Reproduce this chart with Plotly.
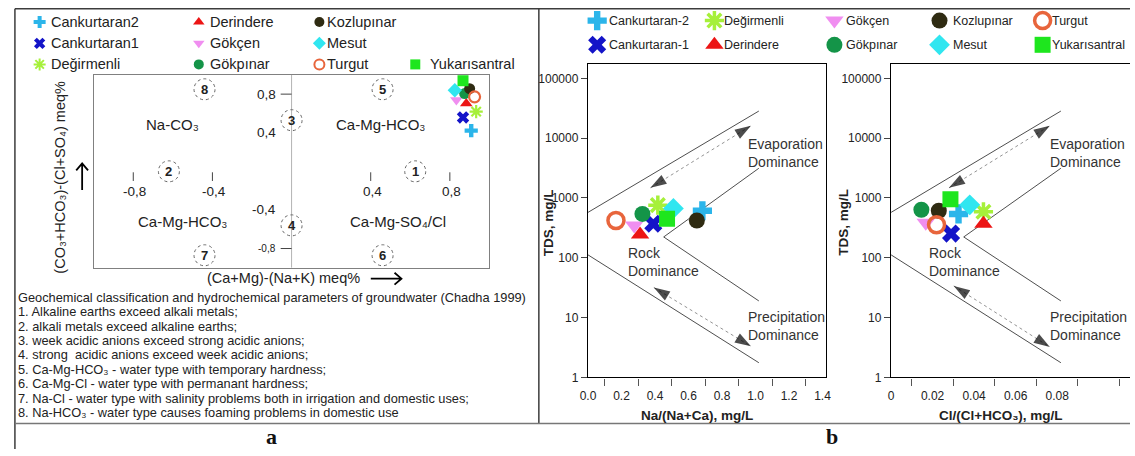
import numpy as np
import plotly.graph_objects as go

W, H = 1135, 456

# ---------------- data ----------------
stations_a = ["Cankurtaran2", "Cankurtaran1", "Değirmenli", "Derindere", "Gökçen",
              "Gökpınar", "Kozlupınar", "Mesut", "Turgut", "Yukarısantral"]
stations_b = ["Cankurtaran-2", "Cankurtaran-1", "Değirmenli", "Derindere", "Gökçen",
              "Gökpınar", "Kozlupınar", "Mesut", "Turgut", "Yukarısantral"]
colors = ["#2bb5ea", "#1414c8", "#a6f03a", "#ec1515", "#f08ef0",
          "#149448", "#2f2b12", "#30e6f0", "#e8653c", "#1ee61e"]
symbols = ["cross", "x", "asterisk-open", "triangle-up", "triangle-down",
           "circle", "circle", "diamond", "circle-open", "square"]

# Chadha diagram: (Ca+Mg)-(Na+K) and (CO3+HCO3)-(Cl+SO4)
chadha_x = [0.908, 0.8665, 0.933, 0.883, 0.833, 0.875, 0.900, 0.825, 0.925, 0.8665]
chadha_y = [0.422, 0.558, 0.619, 0.704, 0.738, 0.806, 0.857, 0.840, 0.772, 0.939]

# Gibbs diagrams
gibbs_na = [0.683, 0.390, 0.417, 0.311, 0.276, 0.325, 0.650, 0.510, 0.167, 0.472]
gibbs_tds1 = [612, 371, 759, 245, 348, 541, 420, 668, 420, 448]
gibbs_cl = [0.0325, 0.0289, 0.0445, 0.0445, 0.0167, 0.0146, 0.0230, 0.0379, 0.0219, 0.0286]
gibbs_tds2 = [541, 254, 589, 371, 385, 635, 612, 767, 357, 953]

# Gibbs boundary lines
g1_upper_x, g1_upper_y = [0.0, 1.02], [574, 28400]
g1_inner_x, g1_inner_y = [1.02, 0.452, 1.02], [3140, 223, 19]
g1_lower_x, g1_lower_y = [0.0, 1.02], [112, 1.76]
g1_arr_up_x, g1_arr_up_y = [0.373, 0.973], [1476, 16140]
g1_arr_dn_x, g1_arr_dn_y = [0.393, 0.973], [31.8, 3.31]

g2_upper_x, g2_upper_y = [0.0, 0.0818], [574, 28400]
g2_inner_x, g2_inner_y = [0.0818, 0.035, 0.0818], [3140, 223, 19]
g2_lower_x, g2_lower_y = [0.0, 0.0818], [112, 1.76]
g2_arr_up_x, g2_arr_up_y = [0.0279, 0.0765], [1476, 16140]
g2_arr_dn_x, g2_arr_dn_y = [0.0302, 0.0765], [33.9, 3.22]

# tick labels
chadha_xticks = [-0.8, -0.4, 0.4, 0.8]
chadha_xticklabels = ["-0,8", "-0,4", "0,4", "0,8"]
chadha_yticks = [0.8, 0.4, -0.4, -0.8]
chadha_yticklabels = ["0,8", "0,4", "-0,4", "-0,8"]
gibbs1_xticks = [0.0, 0.2, 0.4, 0.6, 0.8, 1.0, 1.2, 1.4]
gibbs1_xticklabels = ["0.0", "0.2", "0.4", "0.6", "0.8", "1.0", "1.2", "1.4"]
gibbs2_xticks = [0.0, 0.02, 0.04, 0.06, 0.08]
gibbs2_xticklabels = ["0", "0.02", "0.04", "0.06", "0.08"]
gibbs_yticks = [1, 10, 100, 1000, 10000, 100000]
gibbs_yticklabels = ["1", "10", "100", "1000", "10000", "100000"]

zones = ["8", "5", "3", "2", "1", "4", "7", "6"]
zone_x = [-0.44, 0.46, 0.0, -0.62, 0.625, 0.0, -0.44, 0.46]
zone_y = [0.85, 0.85, 0.53, 0.0, 0.0, -0.56, -0.87, -0.87]
types = ["Na-CO₃", "Ca-Mg-HCO₃", "Ca-Mg-HCO₃", "Ca-Mg-SO₄/Cl"]
type_x = [-0.60, 0.45, -0.55, 0.54]
type_y = [0.483, 0.483, -0.52, -0.52]

notes = [
    "Geochemical classification and hydrochemical parameters of groundwater (Chadha 1999)",
    "1. Alkaline earths exceed alkali metals;",
    "2. alkali metals exceed alkaline earths;",
    "3. week acidic anions exceed strong acidic anions;",
    "4. strong  acidic anions exceed week acidic anions;",
    "5. Ca-Mg-HCO₃ - water type with temporary hardness;",
    "6. Ca-Mg-Cl - water type with permanant hardness;",
    "7. Na-Cl - water type with salinity problems both in irrigation and domestic uses;",
    "8. Na-HCO₃ - water type causes foaming problems in domestic use",
]

FONT = "Liberation Sans, Arial, sans-serif"

# Chadha plot area in figure pixels
CH_L, CH_R, CH_T, CH_B = 86.7, 487.0, 76.0, 272.0


def cx(v):
    return (CH_L + CH_R) / 2 + v * (CH_R - CH_L) / 2


def cy(v):
    return (CH_T + CH_B) / 2 - v * (CH_B - CH_T) / 2


def px(x):
    return x / W


def py(y):
    return 1 - y / H


fig = go.Figure()

# ---------- Chadha markers ----------
for i, s in enumerate(stations_a):
    open_ = symbols[i].endswith("open")
    fig.add_trace(go.Scatter(
        x=[chadha_x[i]], y=[chadha_y[i]], mode="markers", xaxis="x", yaxis="y",
        marker=dict(symbol=symbols[i], size=11, color=colors[i],
                    line=dict(color=colors[i], width=2.2 if open_ else 0)),
        cliponaxis=False, showlegend=False, name=s))


# ---------- Gibbs boundaries and arrows ----------
def gibbs_lines(xa, ya, upx, upy, inx, iny, lox, loy, aux, auy, adx, ady):
    for lx, ly in [(upx, upy), (inx, iny), (lox, loy)]:
        fig.add_trace(go.Scatter(x=lx, y=ly, mode="lines", xaxis=xa, yaxis=ya,
                                 line=dict(color="#3a3a3a", width=0.9), showlegend=False,
                                 hoverinfo="skip"))
    for ax_, ay_ in [(aux, auy), (adx, ady)]:
        fig.add_trace(go.Scatter(x=ax_, y=ay_, mode="lines", xaxis=xa, yaxis=ya,
                                 line=dict(color="#888", width=0.9, dash="dot"),
                                 showlegend=False, hoverinfo="skip"))
        for seq in (slice(None), slice(None, None, -1)):
            fig.add_trace(go.Scatter(
                x=ax_[seq], y=ay_[seq], mode="markers", xaxis=xa, yaxis=ya,
                marker=dict(symbol="arrow", size=[0, 17], color="black", angleref="previous",
                            line=dict(width=0)),
                showlegend=False, hoverinfo="skip"))


gibbs_lines("x2", "y2", g1_upper_x, g1_upper_y, g1_inner_x, g1_inner_y, g1_lower_x, g1_lower_y,
            g1_arr_up_x, g1_arr_up_y, g1_arr_dn_x, g1_arr_dn_y)
gibbs_lines("x3", "y3", g2_upper_x, g2_upper_y, g2_inner_x, g2_inner_y, g2_lower_x, g2_lower_y,
            g2_arr_up_x, g2_arr_up_y, g2_arr_dn_x, g2_arr_dn_y)

# ---------- Gibbs markers ----------
for i, s in enumerate(stations_b):
    open_ = symbols[i].endswith("open")
    mk = dict(symbol=symbols[i], size=16, color=colors[i],
              line=dict(color=colors[i], width=3.5 if open_ else 0))
    fig.add_trace(go.Scatter(x=[gibbs_na[i]], y=[gibbs_tds1[i]], mode="markers",
                             xaxis="x2", yaxis="y2", marker=mk, showlegend=False, name=s))
    fig.add_trace(go.Scatter(x=[gibbs_cl[i]], y=[gibbs_tds2[i]], mode="markers",
                             xaxis="x3", yaxis="y3", marker=mk, showlegend=False, name=s))

# ---------- manual legends (pixel overlay axis) ----------
leg_a_col_mx = [32.0, 193.0, 315.0, 412.0]
leg_a_col_tx = [41.5, 202.0, 321.0, 425.0]
leg_a_row_y = [22.4, 44.0, 65.4]
leg_a_row = [0, 1, 2, 0, 1, 2, 0, 1, 2, 2]
leg_a_col = [0, 0, 0, 1, 1, 1, 2, 2, 2, 3]
annotations = []
for i, s in enumerate(stations_a):
    open_ = symbols[i].endswith("open")
    mx = leg_a_col_mx[leg_a_col[i]]
    my = leg_a_row_y[leg_a_row[i]]
    fig.add_trace(go.Scatter(x=[mx], y=[my], mode="markers", xaxis="x5", yaxis="y5",
                             marker=dict(symbol=symbols[i], size=10, color=colors[i],
                                         line=dict(color=colors[i], width=2 if open_ else 0)),
                             showlegend=False, hoverinfo="skip"))
    annotations.append(dict(x=leg_a_col_tx[leg_a_col[i]], y=my, xref="x5", yref="y5", text=s,
                            showarrow=False, xanchor="left", yanchor="middle",
                            font=dict(family=FONT, size=14.5, color="#222")))

leg_b_col_mx = [596.0, 714.6, 836.0, 942.3, 1046.6]
leg_b_col_tx = [606.0, 722.5, 846.0, 954.0, 1054.5]
leg_b_row_y = [20.9, 45.5]
for i, s in enumerate(stations_b):
    open_ = symbols[i].endswith("open")
    mx = leg_b_col_mx[i // 2]
    my = leg_b_row_y[i % 2]
    fig.add_trace(go.Scatter(x=[mx], y=[my], mode="markers", xaxis="x5", yaxis="y5",
                             marker=dict(symbol=symbols[i], size=16, color=colors[i],
                                         line=dict(color=colors[i], width=3.5 if open_ else 0)),
                             showlegend=False, hoverinfo="skip", cliponaxis=False))
    annotations.append(dict(x=leg_b_col_tx[i // 2], y=my, xref="x5", yref="y5", text=s,
                            showarrow=False, xanchor="left", yanchor="middle",
                            font=dict(family=FONT, size=12.5, color="#222")))

# ---------- Chadha annotations (placed in figure pixels) ----------
for t, v in zip(chadha_xticklabels, chadha_xticks):
    annotations.append(dict(x=cx(v) + 1.5, y=cy(-0.214), xref="x5", yref="y5", text=t,
                            showarrow=False, font=dict(family=FONT, size=13.5, color="#222")))
for t, v in zip(chadha_yticklabels, chadha_yticks):
    annotations.append(dict(x=cx(-0.07), y=cy(v), xref="x5", yref="y5", text=t,
                            showarrow=False, xanchor="right",
                            font=dict(family=FONT, size=10 if t == "-0,8" else 13.5, color="#222")))
for t, xx, yy in zip(zones, zone_x, zone_y):
    annotations.append(dict(x=cx(xx), y=cy(yy), xref="x5", yref="y5", text="<b>%s</b>" % t,
                            showarrow=False, font=dict(family=FONT, size=13, color="#222")))
for t, xx, yy in zip(types, type_x, type_y):
    annotations.append(dict(x=cx(xx), y=cy(yy), xref="x5", yref="y5", text=t, showarrow=False,
                            font=dict(family=FONT, size=15, color="#222")))

annotations.append(dict(x=278.3, y=282.7, xref="x5", yref="y5", text="(Ca+Mg)-(Na+K) meq%",
                        showarrow=False, font=dict(family=FONT, size=14.5, color="#222")))
annotations.append(dict(x=53, y=180, xref="x5", yref="y5",
                        text="(CO₃+HCO₃)-(Cl+SO₄) meq%",
                        textangle=-90, showarrow=False,
                        font=dict(family=FONT, size=14.5, color="#222")))

for k, t in enumerate(notes):
    annotations.append(dict(x=8, y=302 + 14.6 * k, xref="x5", yref="y5", text=t,
                            showarrow=False, xanchor="left", yanchor="middle",
                            font=dict(family=FONT, size=12.8, color="#222")))

annotations.append(dict(x=267, y=443, xref="x5", yref="y5", text="<b>a</b>", showarrow=False,
                        font=dict(family="Liberation Serif, serif", size=22, color="#111")))
annotations.append(dict(x=834, y=443, xref="x5", yref="y5", text="<b>b</b>", showarrow=False,
                        font=dict(family="Liberation Serif, serif", size=22, color="#111")))

# ---------- Gibbs texts ----------
for xl, xr in [(746.7, 625.0), (1051.7, 930.0)]:
    annotations.append(dict(x=xl, y=155.3, xref="x5", yref="y5",
                            text="Evaporation<br>Dominance", showarrow=False, align="left",
                            xanchor="left", font=dict(family=FONT, size=14, color="#333")))
    annotations.append(dict(x=xr, y=265.8, xref="x5", yref="y5",
                            text="Rock<br>Dominance", showarrow=False, align="left",
                            xanchor="left", font=dict(family=FONT, size=14, color="#333")))
    annotations.append(dict(x=xl, y=331.2, xref="x5", yref="y5",
                            text="Precipitation<br>Dominance", showarrow=False, align="left",
                            xanchor="left", font=dict(family=FONT, size=14, color="#333")))

annotations.append(dict(x=697, y=421.7, xref="x5", yref="y5", text="<b>Na/(Na+Ca), mg/L</b>",
                        showarrow=False, font=dict(family=FONT, size=13.5, color="#222")))
annotations.append(dict(x=1005, y=421.7, xref="x5", yref="y5",
                        text="<b>Cl/(Cl+HCO₃), mg/L</b>",
                        showarrow=False, font=dict(family=FONT, size=13.5, color="#222")))
for xx in (547, 845):
    annotations.append(dict(x=xx, y=226, xref="x5", yref="y5", text="<b>TDS, mg/L</b>",
                            textangle=-90, showarrow=False,
                            font=dict(family=FONT, size=13.5, color="#222")))

# ---------- shapes ----------
shapes = []
# Chadha center line and ticks
shapes.append(dict(type="line", xref="x", yref="y", x0=0, x1=0, y0=-1, y1=1,
                   line=dict(color="#b4b4b4", width=1)))
for v in chadha_xticks:
    shapes.append(dict(type="line", xref="x", yref="y", x0=v, x1=v, y0=-0.01, y1=-0.1,
                       line=dict(color="#444", width=1)))
for v in (0.8, -0.8):
    shapes.append(dict(type="line", xref="x", yref="y", x0=-0.055, x1=0, y0=v, y1=v,
                       line=dict(color="#444", width=1)))
for xx, yy in zip(zone_x, zone_y):
    shapes.append(dict(type="circle", xref="x", yref="y", xsizemode="pixel", ysizemode="pixel",
                       xanchor=xx, yanchor=yy, x0=-10.5, x1=10.5, y0=-10.5, y1=10.5,
                       line=dict(color="#666", width=1, dash="dot")))
# axis-title arrows of the Chadha diagram (pixel overlay)
shapes.append(dict(type="path", xref="x5", yref="y5",
                   path="M 367 283 L 398 283 M 391 277 L 398 283 L 391 289",
                   line=dict(color="black", width=1.8)))
shapes.append(dict(type="path", xref="x5", yref="y5",
                   path="M 75 193 L 75 166 M 69 173 L 75 166 L 81 173",
                   line=dict(color="black", width=1.8)))
# frame lines
frame = "#3c3c3c"
shapes.append(dict(type="line", xref="paper", yref="paper", x0=px(7), x1=1, y0=py(9), y1=py(9),
                   line=dict(color=frame, width=1.5)))
shapes.append(dict(type="line", xref="paper", yref="paper", x0=px(7), x1=px(7), y0=py(9), y1=0,
                   line=dict(color=frame, width=1.5)))
shapes.append(dict(type="line", xref="paper", yref="paper", x0=px(537), x1=px(537), y0=py(9),
                   y1=py(430), line=dict(color=frame, width=1.5)))
shapes.append(dict(type="line", xref="paper", yref="paper", x0=px(7), x1=1, y0=py(430),
                   y1=py(430), line=dict(color="#777", width=1.5)))

# ---------- axes ----------
chadha_ax = dict(showgrid=False, zeroline=False, showticklabels=False, ticks="", tickvals=[],
                 showline=True, mirror=True, linecolor="#808080", linewidth=1.3, range=[-1, 1])
gl = dict(showgrid=False, zeroline=False, showline=True, linecolor="black", linewidth=1.4,
          tickfont=dict(family=FONT, size=12, color="#222"))

fig.update_layout(
    width=W, height=H, margin=dict(l=0, r=0, t=0, b=0, pad=0),
    paper_bgcolor="white", plot_bgcolor="rgba(0,0,0,0)", showlegend=False,
    xaxis=dict(domain=[CH_L / W, CH_R / W], anchor="y", **chadha_ax),
    yaxis=dict(domain=[py(CH_B), py(CH_T)], anchor="x", **chadha_ax),
    xaxis2=dict(domain=[586.7 / W, 827.3 / W], anchor="y2", range=[0, 1.42],
                tickvals=gibbs1_xticks, ticktext=gibbs1_xticklabels, ticks="", mirror=True,
                ticklabelstandoff=7,
                minor=dict(tickvals=[0.1, 0.3, 0.5, 0.7, 0.9, 1.1, 1.3], ticks="outside",
                           ticklen=7, tickcolor="#555", tickwidth=1), **gl),
    yaxis2=dict(domain=[py(383.3), py(65)], anchor="x2", type="log", range=[0, 5.24],
                tickvals=gibbs_yticks, ticktext=gibbs_yticklabels, ticks="outside", ticklen=6,
                mirror=True, **gl),
    xaxis3=dict(domain=[893.3 / W, 1], anchor="y3", range=[0, 0.1151],
                tickvals=gibbs2_xticks, ticktext=gibbs2_xticklabels, ticks="", mirror=True,
                ticklabelstandoff=7,
                minor=dict(tickvals=[0.01, 0.03, 0.05, 0.07, 0.09, 0.11], ticks="outside",
                           ticklen=7, tickcolor="#555", tickwidth=1), **gl),
    yaxis3=dict(domain=[py(383.3), py(65)], anchor="x3", type="log", range=[0, 5.24],
                tickvals=gibbs_yticks, ticktext=gibbs_yticklabels, ticks="outside", ticklen=6,
                mirror=False, **gl),
    xaxis5=dict(domain=[0, 1], range=[0, W], visible=False, anchor="y5", fixedrange=True,
                showticklabels=False, tickvals=[]),
    yaxis5=dict(domain=[0, 1], range=[H, 0], visible=False, anchor="x5", fixedrange=True,
                showticklabels=False, tickvals=[]),
    annotations=annotations, shapes=shapes,
)

fig.write_html("out.html")
